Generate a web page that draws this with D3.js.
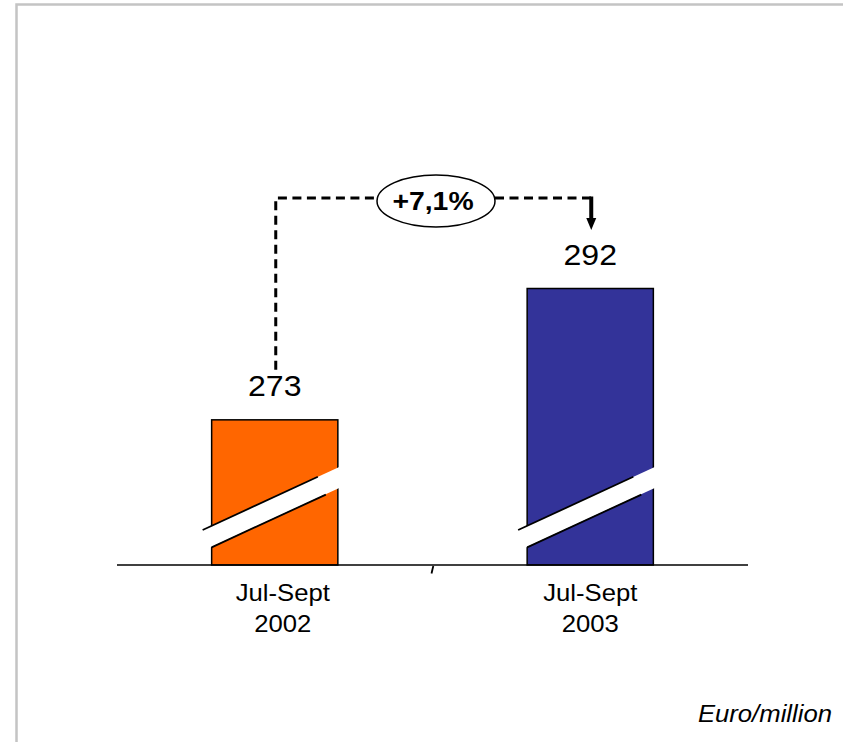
<!DOCTYPE html>
<html>
<head>
<meta charset="utf-8">
<script src="https://cdn.jsdelivr.net/npm/d3@7"></script>
<style>
  html, body { margin: 0; padding: 0; background: #fff; }
  svg { display: block; }
  text { font-family: "Liberation Sans", Arial, sans-serif; fill: #000; }
</style>
</head>
<body>
<script>
// Quarterly figures (broken value axis: bars start at axisFloor, not zero)
const categories = ["Jul-Sept 2002", "Jul-Sept 2003"];
const categoryLines = [["Jul-Sept", "2002"], ["Jul-Sept", "2003"]];
const values = [273, 292];
const barColors = ["#FF6600", "#333399"];
const axisFloor = 252;
const growthLabel = "+7,1%";
const unitLabel = "Euro/million";

const W = 843, H = 742;
const baseY = 565;
const stretch = 1.07; // slightly wide lettering

const svg = d3.select("body").append("svg")
  .attr("width", W).attr("height", H);

// frame lines along the top and left
svg.append("path")
  .attr("d", `M16.5,${H} V4.5 H${W}`)
  .attr("fill", "none")
  .attr("stroke", "#c4c4c4")
  .attr("stroke-width", 2.5);

const x = d3.scaleBand()
  .domain(categories)
  .range([117, 748])
  .paddingInner(0.6)
  .paddingOuter(0.3);

const y = d3.scaleLinear()
  .domain([axisFloor, 292])
  .range([baseY, 288.5]);

const cx = c => x(c) + x.bandwidth() / 2;

function stretchedText(g, px, py, str) {
  return g.append("text")
    .attr("transform", `translate(${px},${py}) scale(${stretch},1)`)
    .text(str);
}

// bars
const bars = svg.append("g");
categories.forEach((c, i) => {
  const x0 = x(c), x1 = x(c) + x.bandwidth();
  bars.append("rect")
    .attr("x", x0).attr("y", y(values[i]))
    .attr("width", x.bandwidth())
    .attr("height", y(axisFloor) - y(values[i]))
    .attr("fill", barColors[i])
    .attr("stroke", "#000")
    .attr("stroke-width", 1.5);

  // axis-break band across the bar
  const slope = -0.462;
  const lx = x0 - 9, rx = x1 + 3;
  const upL = baseY - 35, upR = upL + slope * (rx - lx);
  const th = 21;
  bars.append("path")
    .attr("d", `M${lx},${upL} L${rx},${upR} L${rx},${upR + th} L${lx},${upL + th} Z`)
    .attr("fill", "#fff");
  // edge strokes of the break
  const ex1 = x1 - 20;
  bars.append("line")
    .attr("x1", lx).attr("y1", upL)
    .attr("x2", ex1).attr("y2", upL + slope * (ex1 - lx))
    .attr("stroke", "#000").attr("stroke-width", 1.8);
  const lowY = upL + th + slope * (x0 - lx) + 0.5;
  const ex2 = x1 - 12;
  bars.append("line")
    .attr("x1", x0).attr("y1", lowY)
    .attr("x2", ex2).attr("y2", lowY + slope * (ex2 - x0))
    .attr("stroke", "#000").attr("stroke-width", 1.8);
});

// baseline axis
svg.append("line")
  .attr("x1", 117).attr("x2", 748)
  .attr("y1", baseY).attr("y2", baseY)
  .attr("stroke", "#000").attr("stroke-width", 1.5);

// divider tick between categories
const midX = x(categories[1]) - x.step() * x.paddingInner() / 2;
svg.append("line")
  .attr("x1", midX + 0.8).attr("y1", baseY + 1)
  .attr("x2", midX - 1).attr("y2", baseY + 8.5)
  .attr("stroke", "#000").attr("stroke-width", 1.8);

// value labels
categories.forEach((c, i) => {
  stretchedText(svg, cx(c), y(values[i]) - 24, values[i])
    .attr("text-anchor", "middle")
    .attr("font-size", 30);
});

// category labels (first one sits a little right of its bar centre)
const labelNudge = [8, 0];
categories.forEach((c, i) => {
  categoryLines[i].forEach((t, k) => {
    stretchedText(svg, cx(c) + labelNudge[i], 601 + k * 31, t)
      .attr("text-anchor", "middle")
      .attr("font-size", 24);
  });
});

// growth connector
const lineY = 198;
const xa = cx(categories[0]) + 1, xb = cx(categories[1]) + 1;
const ovalCx = 436, ovalCy = 201, ovalRx = 59, ovalRy = 26;
const conn = svg.append("g")
  .attr("fill", "none")
  .attr("stroke", "#000")
  .attr("stroke-width", 3)
  .attr("stroke-dasharray", "9,5.5");
conn.append("path")
  .attr("d", `M${xa},${y(values[0]) - 50} V${lineY} H${ovalCx - ovalRx}`);
conn.append("path")
  .attr("d", `M${ovalCx + ovalRx},${lineY} H${xb}`);
// arrow stem and head down to the second bar's label
svg.append("path")
  .attr("d", `M${xb},${lineY - 1.5} V219`)
  .attr("stroke", "#000")
  .attr("stroke-width", 4)
  .attr("fill", "none");
svg.append("path")
  .attr("d", `M${xb - 5},218 L${xb + 5},218 L${xb},230 Z`)
  .attr("fill", "#000");

svg.append("ellipse")
  .attr("cx", ovalCx).attr("cy", ovalCy)
  .attr("rx", ovalRx).attr("ry", ovalRy)
  .attr("fill", "#fff")
  .attr("stroke", "#000")
  .attr("stroke-width", 1.5);
stretchedText(svg, 433, 210, growthLabel)
  .attr("text-anchor", "middle")
  .attr("font-size", 26.5)
  .attr("font-weight", "bold");

// unit note
stretchedText(svg, 832, 722, unitLabel)
  .attr("text-anchor", "end")
  .attr("font-size", 24)
  .attr("font-style", "italic");
</script>
</body>
</html>
